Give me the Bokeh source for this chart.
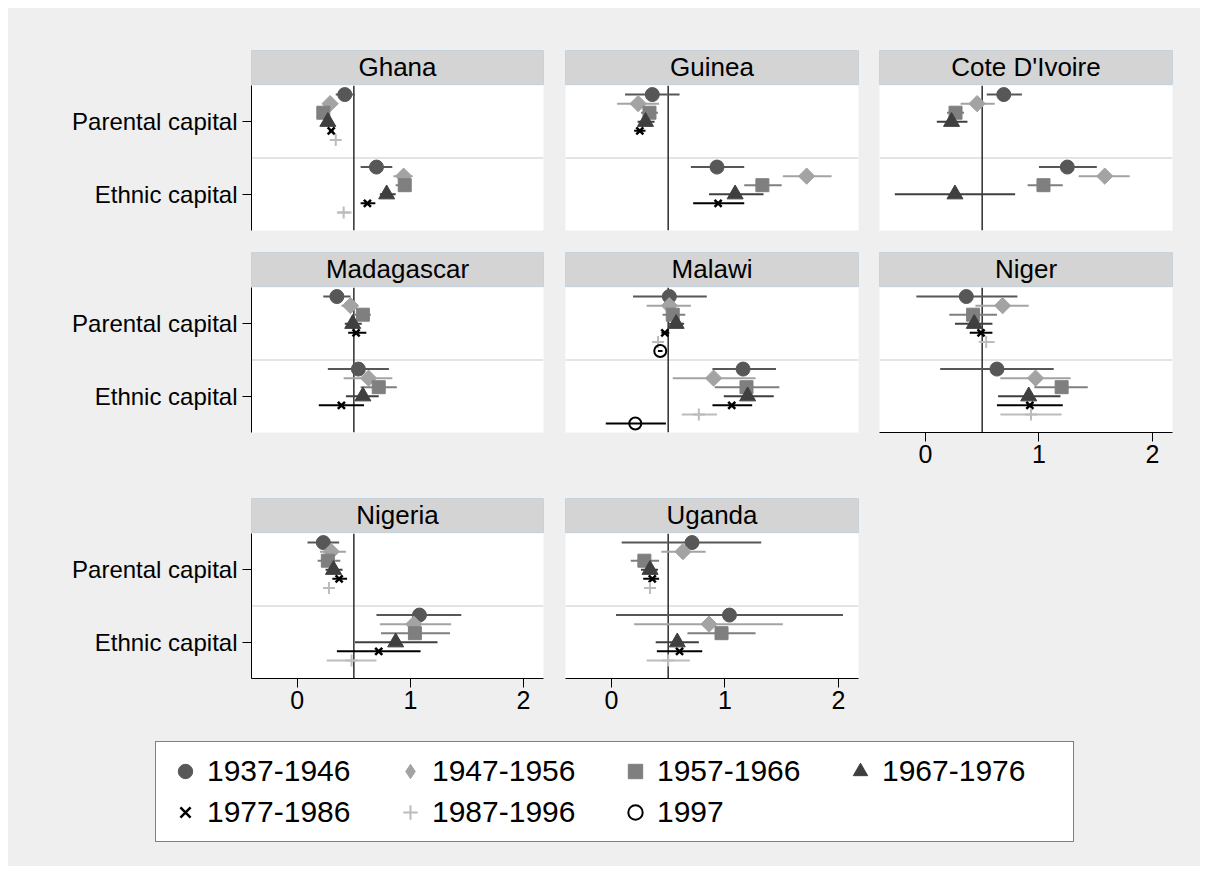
import math
from bokeh.plotting import figure
from bokeh.models import ColumnDataSource, Range1d, FixedTicker, Span, Legend, LegendItem, Spacer
from bokeh.layouts import row, column
from bokeh.embed import file_html
from bokeh.resources import INLINE
from bokeh.core.properties import value

# ---------------- data ----------------
COHORTS = ["1937-1946", "1947-1956", "1957-1966", "1967-1976",
           "1977-1986", "1987-1996", "1997"]
COUNTRIES = ["Ghana", "Guinea", "Cote D'Ivoire", "Madagascar", "Malawi",
             "Niger", "Nigeria", "Uganda"]
Y_LABELS = {2: "Parental capital", 1: "Ethnic capital"}
X_TICKS = [0, 1, 2]

# (estimate, low, high) per cohort; None = not estimated
GHANA_PARENTAL = [(0.42, 0.34, 0.51), (0.29, 0.26, 0.32), (0.23, 0.20, 0.26), (0.27, 0.24, 0.30),
                  (0.30, 0.28, 0.32), (0.34, 0.32, 0.36), None]
GHANA_ETHNIC = [(0.70, 0.56, 0.84), (0.94, 0.85, 1.02), (0.95, 0.87, 1.00), (0.79, 0.73, 0.87),
                (0.62, 0.56, 0.69), (0.41, 0.35, 0.48), None]
GUINEA_PARENTAL = [(0.36, 0.12, 0.60), (0.235, 0.05, 0.42), (0.335, 0.26, 0.41), (0.30, 0.23, 0.38),
                   (0.25, 0.20, 0.30), None, None]
GUINEA_ETHNIC = [(0.93, 0.70, 1.17), (1.72, 1.51, 1.94), (1.33, 1.17, 1.50), (1.09, 0.86, 1.34),
                 (0.94, 0.72, 1.17), None, None]
COTE_PARENTAL = [(0.69, 0.54, 0.85), (0.455, 0.31, 0.61), (0.265, 0.19, 0.34), (0.23, 0.10, 0.37),
                 None, None, None]
COTE_ETHNIC = [(1.25, 1.00, 1.51), (1.58, 1.35, 1.80), (1.04, 0.90, 1.21), (0.26, -0.27, 0.79),
               None, None, None]
MADAGASCAR_PARENTAL = [(0.35, 0.23, 0.47), (0.47, 0.39, 0.54), (0.58, 0.51, 0.65), (0.49, 0.42, 0.57),
                       (0.52, 0.45, 0.61), None, None]
MADAGASCAR_ETHNIC = [(0.54, 0.27, 0.81), (0.63, 0.41, 0.84), (0.72, 0.56, 0.88), (0.58, 0.43, 0.72),
                     (0.39, 0.19, 0.59), None, None]
MALAWI_PARENTAL = [(0.51, 0.19, 0.84), (0.51, 0.31, 0.70), (0.54, 0.45, 0.65), (0.57, 0.50, 0.64),
                   (0.47, 0.44, 0.51), (0.41, 0.38, 0.46), (0.43, 0.41, 0.45)]
MALAWI_ETHNIC = [(1.16, 0.89, 1.45), (0.90, 0.54, 1.27), (1.19, 0.91, 1.48), (1.20, 0.99, 1.43),
                 (1.06, 0.89, 1.24), (0.77, 0.62, 0.93), (0.21, -0.05, 0.48)]
NIGER_PARENTAL = [(0.36, -0.08, 0.81), (0.68, 0.44, 0.91), (0.42, 0.21, 0.63), (0.43, 0.26, 0.59),
                  (0.49, 0.39, 0.59), (0.535, 0.47, 0.61), None]
NIGER_ETHNIC = [(0.63, 0.13, 1.13), (0.97, 0.66, 1.28), (1.20, 0.96, 1.43), (0.91, 0.64, 1.19),
                (0.92, 0.63, 1.21), (0.93, 0.66, 1.20), None]
NIGERIA_PARENTAL = [(0.23, 0.09, 0.37), (0.30, 0.20, 0.43), (0.27, 0.18, 0.38), (0.32, 0.25, 0.40),
                    (0.37, 0.31, 0.44), (0.28, 0.24, 0.33), None]
NIGERIA_ETHNIC = [(1.08, 0.70, 1.45), (1.03, 0.73, 1.36), (1.04, 0.74, 1.35), (0.87, 0.51, 1.24),
                  (0.72, 0.35, 1.09), (0.48, 0.26, 0.70), None]
UGANDA_PARENTAL = [(0.71, 0.09, 1.32), (0.63, 0.44, 0.83), (0.29, 0.17, 0.42), (0.34, 0.26, 0.41),
                   (0.36, 0.28, 0.42), (0.34, 0.30, 0.39), None]
UGANDA_ETHNIC = [(1.04, 0.04, 2.04), (0.86, 0.20, 1.51), (0.97, 0.67, 1.27), (0.58, 0.39, 0.77),
                 (0.60, 0.40, 0.80), (0.50, 0.31, 0.69), None]

PANEL_DATA = {
    "Ghana": (GHANA_PARENTAL, GHANA_ETHNIC),
    "Guinea": (GUINEA_PARENTAL, GUINEA_ETHNIC),
    "Cote D'Ivoire": (COTE_PARENTAL, COTE_ETHNIC),
    "Madagascar": (MADAGASCAR_PARENTAL, MADAGASCAR_ETHNIC),
    "Malawi": (MALAWI_PARENTAL, MALAWI_ETHNIC),
    "Niger": (NIGER_PARENTAL, NIGER_ETHNIC),
    "Nigeria": (NIGERIA_PARENTAL, NIGERIA_ETHNIC),
    "Uganda": (UGANDA_PARENTAL, UGANDA_ETHNIC),
}

# ---------------- styles ----------------
FONT = "Liberation Sans"
BG = "#efefef"
OFFSET = 0.125
STYLES = [
    dict(marker="circle", size=14, fill_color="#575757", line_color="#575757", line_width=1, angle=0),
    dict(marker="square", size=11.5, fill_color="#a3a3a3", line_color="#a3a3a3", line_width=1, angle=math.pi / 4),
    dict(marker="square", size=13, fill_color="#7f7f7f", line_color="#7f7f7f", line_width=1, angle=0),
    dict(marker="triangle", size=16, fill_color="#3f3f3f", line_color="#3f3f3f", line_width=1, angle=0),
    dict(marker="x", size=10, fill_color=None, line_color="#000000", line_width=2.5, angle=0),
    dict(marker="cross", size=12, fill_color=None, line_color="#bcbcbc", line_width=2, angle=0),
    dict(marker="circle", size=12, fill_color=None, line_color="#000000", line_width=2, angle=0),
]
LEGEND_MARKERS = ["circle", "diamond", "square", "triangle", "x", "cross", "circle"]
CI_COLORS = ["#575757", "#a3a3a3", "#7f7f7f", "#3f3f3f", "#000000", "#bcbcbc", "#000000"]

COL_W = [547, 313, 332]
COL_L = [243, 10, 11]
COL_R = [12, 10, 28]


def base_fig(w, h, left, right, top, bottom, **kw):
    p = figure(width=w, height=h, output_backend="svg", toolbar_location=None,
               min_border_left=left, min_border_right=right,
               min_border_top=top, min_border_bottom=bottom,
               border_fill_color=BG, outline_line_color=None, **kw)
    p.grid.visible = False
    return p


def header(name, col, h, top):
    p = base_fig(COL_W[col], h, COL_L[col], COL_R[col], top, 0,
                 x_range=Range1d(0, 1), y_range=Range1d(0, 1),
                 x_axis_location=None, y_axis_location=None)
    p.background_fill_color = "#d4d4d4"
    p.outline_line_color = "#c6d3dc"
    p.outline_line_width = 1
    p.text(x=[0.5], y=[0.52], text=[name], text_align="center", text_baseline="middle",
           text_font=value(FONT), text_font_size="26px", text_color="#000000")
    return p


def panel(name, col, h, bottom, show_x):
    par, eth = PANEL_DATA[name]
    p = base_fig(COL_W[col], h, COL_L[col], COL_R[col], 0, bottom,
                 x_range=Range1d(-0.405, 2.177), y_range=Range1d(0.5, 2.5),
                 x_axis_location="below" if show_x else None,
                 y_axis_location="left" if col == 0 else None)
    p.background_fill_color = "#ffffff"
    p.add_layout(Span(location=1.5, dimension="width", line_color="#e4e4e4",
                      line_width=2, level="underlay"))
    p.add_layout(Span(location=0.5, dimension="height", line_color="#3a3a3a",
                      line_width=1.6, level="underlay"))
    for k in range(len(COHORTS)):
        xs, lo, hi, ys = [], [], [], []
        for cat_y, series in ((2, par), (1, eth)):
            v = series[k]
            if v is None:
                continue
            xs.append(v[0]); lo.append(v[1]); hi.append(v[2])
            ys.append(cat_y + (3 - k) * OFFSET)
        if not xs:
            continue
        src = ColumnDataSource(dict(x=xs, lo=lo, hi=hi, y=ys))
        p.segment(x0="lo", y0="y", x1="hi", y1="y", source=src,
                  line_color=CI_COLORS[k], line_width=2)
        p.scatter(x="x", y="y", source=src, **STYLES[k])
    if col == 0:
        ax = p.yaxis[0]
        ax.ticker = FixedTicker(ticks=list(Y_LABELS.keys()), minor_ticks=[])
        ax.major_label_overrides = dict(Y_LABELS)
        ax.major_label_text_font = FONT
        ax.major_label_text_font_size = "24px"
        ax.major_label_text_color = "#000000"
        ax.major_tick_out = 9
        ax.major_tick_in = 0
        ax.major_label_standoff = 5
        ax.axis_line_color = "#000000"
        ax.major_tick_line_color = "#000000"
    if show_x:
        ax = p.xaxis[0]
        ax.ticker = FixedTicker(ticks=X_TICKS, minor_ticks=[])
        ax.major_label_text_font = FONT
        ax.major_label_text_font_size = "25px"
        ax.major_label_text_color = "#000000"
        ax.major_tick_out = 9
        ax.major_tick_in = 0
        ax.major_label_standoff = 3
        ax.axis_line_color = "#000000"
        ax.major_tick_line_color = "#000000"
    return p


ROWS = [
    (["Ghana", "Guinea", "Cote D'Ivoire"], 77, 42, 167, 22, [False, False, False]),
    (["Madagascar", "Malawi", "Niger"], 35, 0, 211, 66, [False, False, True]),
    (["Nigeria", "Uganda"], 35, 0, 195, 50, [True, True]),
]

rows = []
for names, hh, htop, ph, pbot, shows in ROWS:
    cells = []
    for col, name in enumerate(names):
        cells.append(column(header(name, col, hh, htop), panel(name, col, ph, pbot, shows[col])))
    if len(names) < 3:
        e = base_fig(COL_W[2], hh + ph, 0, 0, 0, 0, x_range=Range1d(0, 1), y_range=Range1d(0, 1),
                     x_axis_location=None, y_axis_location=None)
        e.background_fill_color = BG
        cells.append(e)
    rows.append(row(*cells, styles={"background-color": BG}))

# legend figure
leg = base_fig(1192, 138, 0, 0, 0, 0, x_range=Range1d(0, 1), y_range=Range1d(0, 1),
               x_axis_location=None, y_axis_location=None)
leg.background_fill_color = BG
items = []
for k, c in enumerate(COHORTS):
    st = dict(STYLES[k])
    st["marker"] = LEGEND_MARKERS[k]
    st["angle"] = 0
    src = ColumnDataSource(dict(x=[float("nan")], y=[float("nan")]))
    r = leg.scatter(x="x", y="y", source=src, **st)
    items.append(LegendItem(label=c, renderers=[r]))
legend = Legend(items=items, location=(147, 24), orientation="horizontal", nrows=2,
                border_line_color="#000000", border_line_width=1,
                background_fill_color="#ffffff", background_fill_alpha=1.0,
                label_text_font=FONT, label_text_font_size="30px", label_text_color="#000000",
                glyph_width=36, glyph_height=36, label_height=30, label_width=180,
                label_standoff=4, padding=11, spacing=5, margin=0)
leg.add_layout(legend)
rows.append(leg)

inner = column(*rows, styles={"background-color": BG})
page = column(Spacer(width=1200, height=8), row(Spacer(width=8, height=858), inner))
open("out.html", "w").write(file_html(page, INLINE))
